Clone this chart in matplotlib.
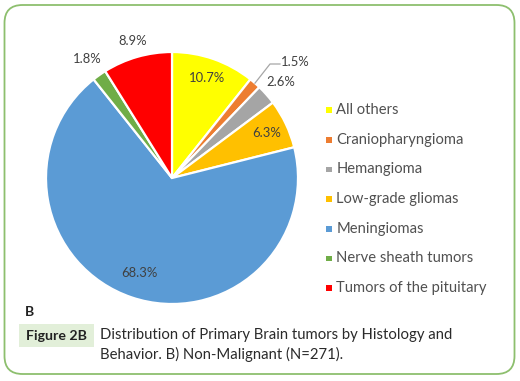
import numpy as np
import matplotlib
matplotlib.use("Agg")
import matplotlib.pyplot as plt
from matplotlib.patches import FancyBboxPatch, Rectangle

# data
categories = ["All others", "Craniopharyngioma", "Hemangioma", "Low-grade gliomas",
              "Meningiomas", "Nerve sheath tumors", "Tumors of the pituitary"]
shares = [10.7, 1.5, 2.6, 6.3, 68.3, 1.8, 8.9]
colors = ["#FFFF00", "#ED7D31", "#A5A5A5", "#FFC000", "#5B9BD5", "#70AD47", "#FF0000"]
# distance of each percentage label from the centre (fraction of radius)
label_dist = [0.84, 1.33, 1.15, 0.83, 0.80, 1.16, 1.13]

W, H = 520, 381
plt.rcParams['font.family'] = ['Lato', 'DejaVu Sans']

fig = plt.figure(figsize=(W / 100, H / 100), dpi=100)
ax = fig.add_axes([0, 0, 1, 1])
ax.set_xlim(0, W)
ax.set_ylim(0, H)
ax.set_aspect('equal')
ax.axis('off')

def fy(y):
    # image pixel row -> axes y
    return H - y

# frame with rounded corners
ax.add_patch(FancyBboxPatch((4.5 + 18, fy(374) + 18), 510 - 36, 369 - 36,
                            boxstyle="round,pad=18", fc="white", ec="#8DBF6E", lw=1.3))

cx, cy, r = 172, fy(178), 126
wedges, _ = ax.pie(shares, colors=colors, startangle=90, counterclock=False,
                   radius=r, center=(cx, cy), frame=True,
                   wedgeprops=dict(edgecolor="white", linewidth=1.6))
ax.set_xlim(0, W)
ax.set_ylim(0, H)
ax.axis('off')

for w, val, d in zip(wedges, shares, label_dist):
    ang = np.deg2rad((w.theta1 + w.theta2) / 2)
    x, y = cx + d * r * np.cos(ang), cy + d * r * np.sin(ang)
    if val == 1.5:
        # leader line for the thin slice
        ex, ey = cx + 1.0 * r * np.cos(ang), cy + 1.0 * r * np.sin(ang)
        ax.plot([ex, 270, 280], [ey, fy(64), fy(64)], color="#A6A6A6", lw=0.9)
        ax.text(281, fy(62), f"{val}%", ha="left", va="center",
                fontsize=9.4, color="#404040")
    else:
        ax.text(x, y, f"{val}%", ha="center", va="center",
                fontsize=9.4, color="#404040")

# legend
for i, (lab, col) in enumerate(zip(categories, colors)):
    yy = fy(110 + 29.7 * i)
    ax.add_patch(Rectangle((326, yy - 2.8), 5.6, 5.6, fc=col, ec="none"))
    ax.text(336.5, yy, lab, ha="left", va="center", fontsize=10.6, color="#505050")

# panel letter and caption
ax.text(25, fy(312), "B", ha="left", va="center", fontsize=10, fontweight="bold",
        color="#222222")
ax.add_patch(Rectangle((19, fy(347)), 75, 23, fc="#E2EFD9", ec="none"))
ax.text(56.5, fy(336.5), "Figure 2B", ha="center", va="center", fontsize=10.2,
        fontweight="bold", color="#222222")
ax.text(100, fy(335), "Distribution of Primary Brain tumors by Histology and",
        ha="left", va="center", fontsize=10.7, color="#2A2A2A")
ax.text(100, fy(354), "Behavior. B) Non-Malignant (N=271).",
        ha="left", va="center", fontsize=10.7, color="#2A2A2A")

fig.savefig("out.png", dpi=100)
